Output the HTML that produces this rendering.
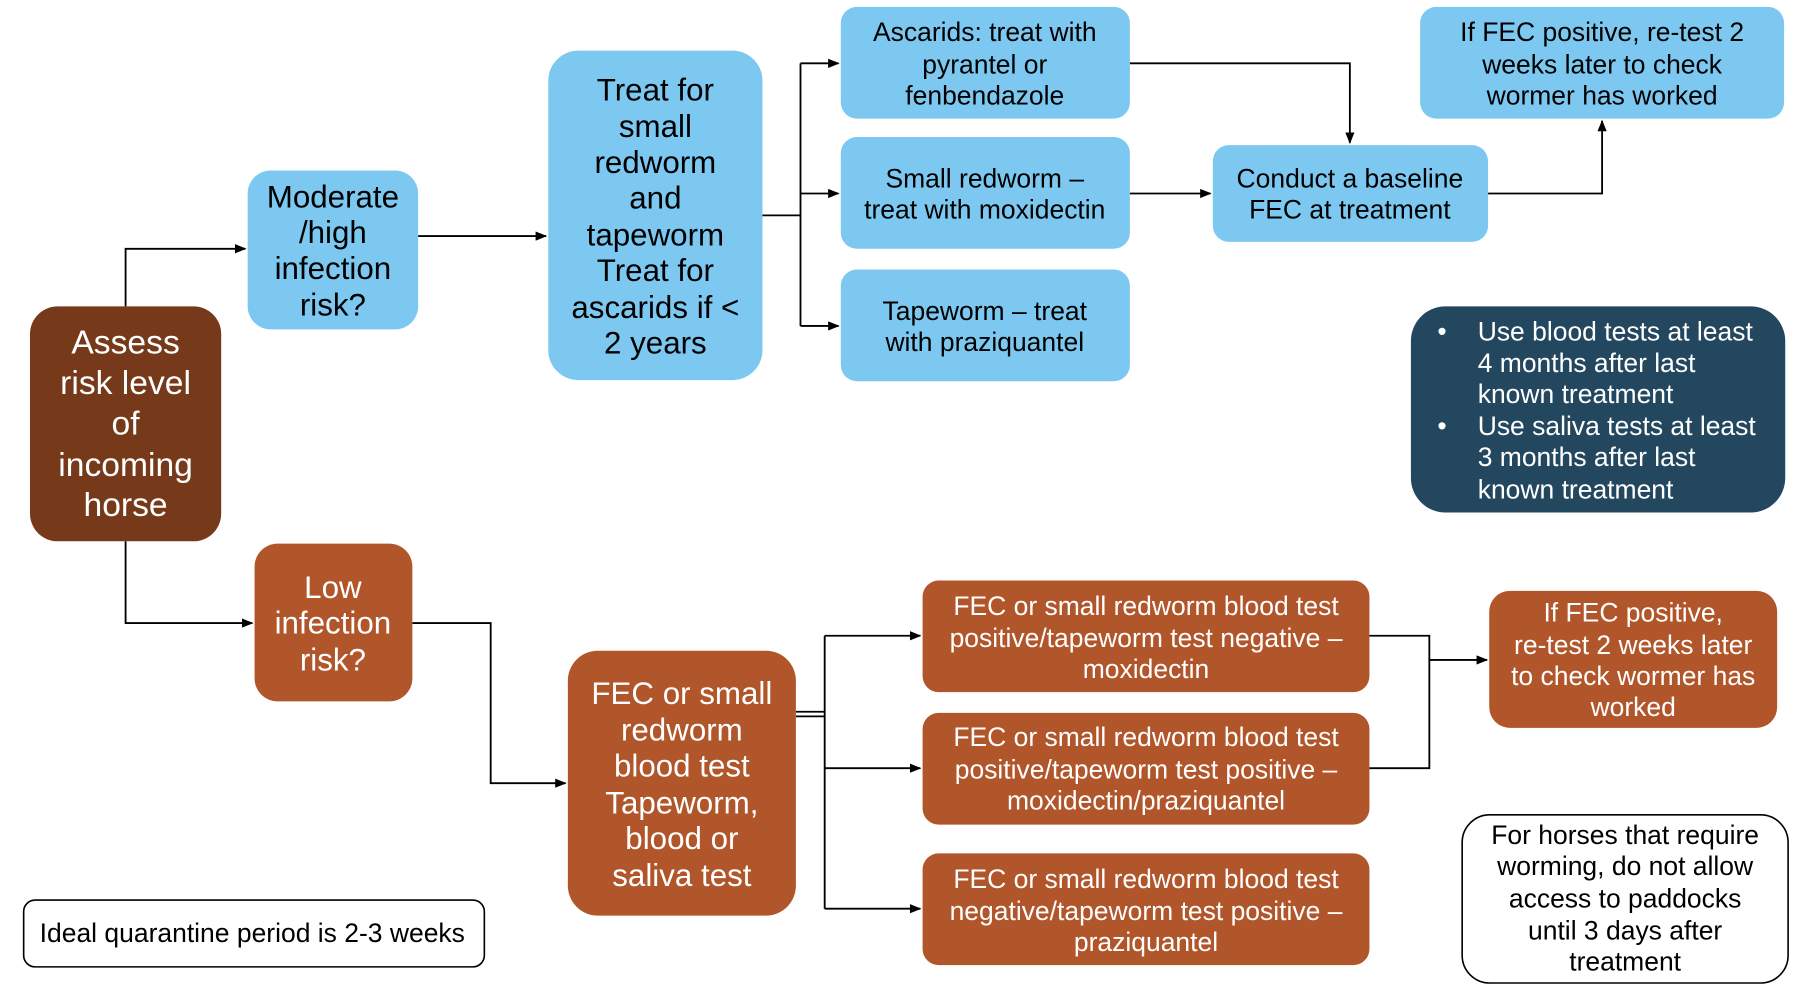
<!DOCTYPE html>
<html><head><meta charset="utf-8"><style>
html,body{margin:0;padding:0;background:#fff;}
svg{display:block;}
text{font-family:"Liberation Sans",Arial,sans-serif;}
</style></head><body>
<svg width="1806" height="1002" viewBox="0 0 1568 870" xmlns="http://www.w3.org/2000/svg">
<defs><marker id="a" markerWidth="10" markerHeight="8" refX="9" refY="4" orient="auto" markerUnits="userSpaceOnUse"><path d="M0,0 L10,4 L0,8 z" fill="#000"/></marker></defs>
<g fill="none" stroke="#000" stroke-width="1.6">
<path d="M109,266 V216 H213" marker-end="url(#a)"/>
<path d="M363,205 H474" marker-end="url(#a)"/>
<path d="M662,187 H695"/>
<path d="M695,55 V283"/>
<path d="M695,55 H728" marker-end="url(#a)"/>
<path d="M695,168 H728" marker-end="url(#a)"/>
<path d="M695,283 H728" marker-end="url(#a)"/>
<path d="M981,55 H1172 V124" marker-end="url(#a)"/>
<path d="M981,168 H1051" marker-end="url(#a)"/>
<path d="M1292,168 H1391 V105" marker-end="url(#a)"/>
<path d="M109,470 V541 H219" marker-end="url(#a)"/>
<path d="M358,541 H426 V680 H491" marker-end="url(#a)"/>
<path d="M691,618 H716 M691,622 H716"/>
<path d="M716,552 V789"/>
<path d="M716,552 H799" marker-end="url(#a)"/>
<path d="M716,667 H799" marker-end="url(#a)"/>
<path d="M716,789 H799" marker-end="url(#a)"/>
<path d="M1189,552 H1241 V667 H1189"/>
<path d="M1241,573 H1291" marker-end="url(#a)"/>
</g>
<rect x="26" y="266" width="166" height="204" rx="24" fill="#763a1b"/>
<rect x="215" y="148" width="148" height="138" rx="20" fill="#7dc8f0"/>
<rect x="476" y="44" width="186" height="286" rx="26" fill="#7dc8f0"/>
<rect x="730" y="6" width="251" height="97" rx="14" fill="#7dc8f0"/>
<rect x="730" y="119" width="251" height="97" rx="14" fill="#7dc8f0"/>
<rect x="730" y="234" width="251" height="97" rx="14" fill="#7dc8f0"/>
<rect x="1053" y="126" width="239" height="84" rx="14" fill="#7dc8f0"/>
<rect x="1233" y="6" width="316" height="97" rx="14" fill="#7dc8f0"/>
<rect x="1225" y="266" width="325" height="179" rx="30" fill="#22475f"/>
<rect x="221" y="472" width="137" height="137" rx="20" fill="#b1552a"/>
<rect x="493" y="565" width="198" height="230" rx="26" fill="#b1552a"/>
<rect x="801" y="504" width="388" height="97" rx="14" fill="#b1552a"/>
<rect x="801" y="619" width="388" height="97" rx="14" fill="#b1552a"/>
<rect x="801" y="741" width="388" height="97" rx="14" fill="#b1552a"/>
<rect x="1293" y="513" width="250" height="119" rx="18" fill="#b1552a"/>
<rect x="1269.5" y="707.5" width="283" height="146" rx="24" fill="#fff" stroke="#000" stroke-width="1.4"/>
<rect x="20.5" y="781.5" width="400" height="58" rx="10" fill="#fff" stroke="#000" stroke-width="1.4"/>
<g text-anchor="middle" dominant-baseline="central">
<g fill="#fff" font-size="29.2"><text x="109" y="298">Assess</text><text x="109" y="333">risk level</text><text x="109" y="368">of</text><text x="109" y="404">incoming</text><text x="109" y="439">horse</text></g>
<g fill="#000" font-size="27.2"><text x="289" y="171">Moderate</text><text x="289" y="202">/high</text><text x="289" y="233">infection</text><text x="289" y="265">risk?</text>
<text x="569" y="78">Treat for</text><text x="569" y="110">small</text><text x="569" y="141">redworm</text><text x="569" y="172">and</text><text x="569" y="204">tapeworm</text><text x="569" y="235">Treat for</text><text x="569" y="267">ascarids if &lt;</text><text x="569" y="298">2 years</text></g>
<g fill="#000" font-size="23"><text x="855" y="28">Ascarids: treat with</text><text x="855" y="56">pyrantel or</text><text x="855" y="83">fenbendazole</text>
<text x="855" y="155">Small redworm –</text><text x="855" y="182">treat with moxidectin</text>
<text x="855" y="270">Tapeworm – treat</text><text x="855" y="297">with praziquantel</text>
<text x="1172" y="155">Conduct a baseline</text><text x="1172" y="182">FEC at treatment</text>
<text x="1391" y="28">If FEC positive,  re-test 2</text><text x="1391" y="56">weeks later to check</text><text x="1391" y="83">wormer has worked</text>
<text x="1411" y="725">For horses that require</text><text x="1411" y="752">worming, do not allow</text><text x="1411" y="780">access to paddocks</text><text x="1411" y="808">until 3 days after</text><text x="1411" y="835">treatment</text>
<text x="219" y="810">Ideal quarantine period is 2-3 weeks</text></g>
<g fill="#fff" font-size="27.2"><text x="289" y="510">Low</text><text x="289" y="541">infection</text><text x="289" y="573">risk?</text>
<text x="592" y="602">FEC or small</text><text x="592" y="634">redworm</text><text x="592" y="665">blood test</text><text x="592" y="697">Tapeworm,</text><text x="592" y="728">blood or</text><text x="592" y="760">saliva test</text></g>
<g fill="#fff" font-size="23"><text x="995" y="526">FEC or small redworm blood test</text><text x="995" y="554">positive/tapeworm test negative –</text><text x="995" y="581">moxidectin</text>
<text x="995" y="640">FEC or small redworm blood test</text><text x="995" y="668">positive/tapeworm test positive –</text><text x="995" y="695">moxidectin/praziquantel</text>
<text x="995" y="763">FEC or small redworm blood test</text><text x="995" y="791">negative/tapeworm test positive –</text><text x="995" y="818">praziquantel</text>
<text x="1418" y="532">If FEC positive,</text><text x="1418" y="560">re-test 2 weeks later</text><text x="1418" y="587">to check wormer has</text><text x="1418" y="614">worked</text></g>
</g>
<g fill="#fff" font-size="23" dominant-baseline="central">
<text x="1248" y="288">•</text><text x="1283" y="288">Use blood tests at least</text><text x="1283" y="315">4 months after last</text><text x="1283" y="342">known treatment</text>
<text x="1248" y="370">•</text><text x="1283" y="370">Use saliva tests at least</text><text x="1283" y="397">3 months after last</text><text x="1283" y="425">known treatment</text>
</g>
</svg>
</body></html>
